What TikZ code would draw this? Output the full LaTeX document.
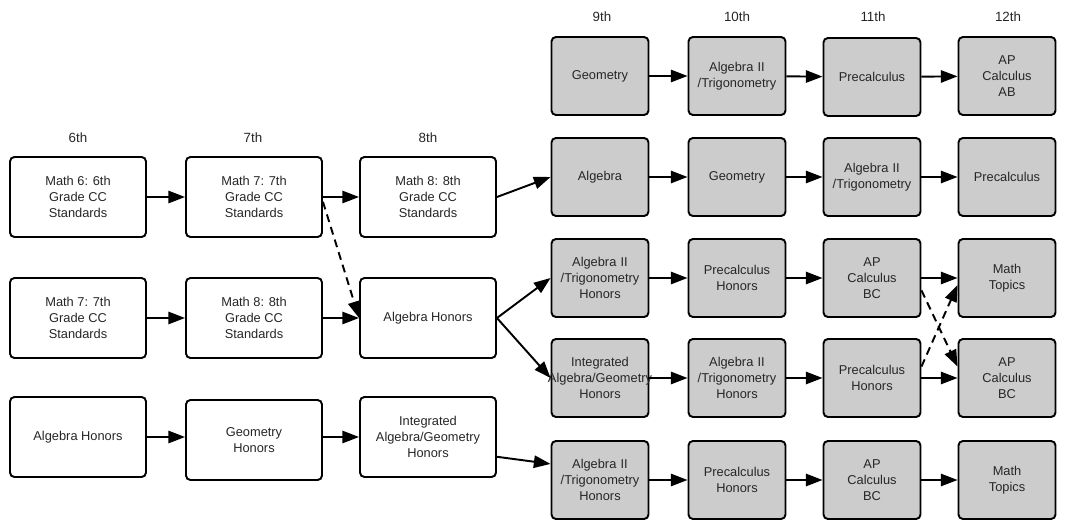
\documentclass[tikz,border=0pt]{standalone}
\usepackage{fontspec}
\setmainfont{Liberation Sans}
\usetikzlibrary{arrows.meta,positioning,shapes}
\definecolor{hsgray}{RGB}{204,204,204}
\tikzset{
        ->, % every connector is directed
        >={Triangle[length=9.5pt,width=7pt]}, % big filled heads
        x=0.02cm, y=-0.02cm, % one unit is one pixel of the layout
    }
\tikzstyle{course}=[draw,-,fill=white,text=black!85,rounded corners=2.5pt,minimum width=2.72cm,minimum height=1.6cm,align=center,inner sep=1pt]
\tikzstyle{hscourse}=[course,fill=hsgray,text width=1.9cm,minimum width=1.94cm,minimum height=1.56cm,inner sep=0.02cm]
\tikzstyle{grade}=[text=black!85,font=\fontsize{7.6}{9}\selectfont]
\tikzstyle{optional}=[dash pattern=on 4.5pt off 3pt]

\begin{document}
\begin{tikzpicture}[line width=1.1pt,font=\fontsize{7.3}{9.1}\selectfont]
    \useasboundingbox (0,0) rectangle (1072,520);
    % grade headings
    \node[grade] (g6) at (78,138) {6th};
    \node[grade] (g7) at (253,138) {7th};
    \node[grade] (g8) at (428,138) {8th};
    \node[grade] (g9) at (602,17) {9th};
    \node[grade] (g10) at (737,17) {10th};
    \node[grade] (g11) at (873,17) {11th};
    \node[grade] (g12) at (1008,17) {12th};

    % middle school tracks
    \node[course] (m6a) at (78,197) {Math 6: 6th\\Grade CC\\Standards};
    \node[course] (m7a) at (254,197) {Math 7: 7th\\Grade CC\\Standards};
    \node[course] (m8a) at (428,197) {Math 8: 8th\\Grade CC\\Standards};
    \node[course] (m6b) at (78,318) {Math 7: 7th\\Grade CC\\Standards};
    \node[course] (m7b) at (254,318) {Math 8: 8th\\Grade CC\\Standards};
    \node[course] (m8b) at (428,318) {Algebra Honors};
    \node[course] (m6c) at (78,437) {Algebra Honors};
    \node[course] (m7c) at (254,440) {Geometry\\Honors};
    \node[course] (m8c) at (428,437) {Integrated\\Algebra/Geometry\\Honors};

    % high school tracks
    \node[hscourse] (h9a) at (600,76) {Geometry};
    \node[hscourse] (h10a) at (737,76) {Algebra II\\/Trigonometry};
    \node[hscourse] (h11a) at (872,77) {Precalculus};
    \node[hscourse] (h12a) at (1007,76) {AP\\Calculus\\AB};
    \node[hscourse] (h9b) at (600,177) {Algebra};
    \node[hscourse] (h10b) at (737,177) {Geometry};
    \node[hscourse] (h11b) at (872,177) {Algebra II\\/Trigonometry};
    \node[hscourse] (h12b) at (1007,177) {Precalculus};
    \node[hscourse] (h9c) at (600,278) {Algebra II\\/Trigonometry\\Honors};
    \node[hscourse] (h10c) at (737,278) {Precalculus\\Honors};
    \node[hscourse] (h11c) at (872,278) {AP\\Calculus\\BC};
    \node[hscourse] (h12c) at (1007,278) {Math\\Topics};
    \node[hscourse] (h9d) at (600,378) {Integrated\\\makebox[1.9cm][c]{Algebra/Geometry}\\Honors};
    \node[hscourse] (h10d) at (737,378) {Algebra II\\/Trigonometry\\Honors};
    \node[hscourse] (h11d) at (872,378) {Precalculus\\Honors};
    \node[hscourse] (h12d) at (1007,378) {AP\\Calculus\\BC};
    \node[hscourse] (h9e) at (600,480) {Algebra II\\/Trigonometry\\Honors};
    \node[hscourse] (h10e) at (737,480) {Precalculus\\Honors};
    \node[hscourse] (h11e) at (872,480) {AP\\Calculus\\BC};
    \node[hscourse] (h12e) at (1007,480) {Math\\Topics};

    % connectors
    \draw (m6a) -- (m7a);
    \draw (m7a) -- (m8a);
    \draw (m8a.east) -- (h9b.west);
    \draw[optional] (m7a.-4) -- (m8b.west);
    \draw (m6b) -- (m7b);
    \draw (m7b) -- (m8b);
    \draw (m8b.east) -- (h9c.west);
    \draw (m8b.east) -- (h9d.west);
    \draw (m6c) -- (m7c.west |- m6c);
    \draw (m7c.east |- m6c) -- (m8c);
    \draw (m8c.-16) -- (h9e.162);
    \foreach \r in {a,b,c,d,e} {
        \draw (h9\r) -- (h10\r);
        \draw (h10\r) -- (h11\r);
        \draw (h11\r) -- (h12\r);
    }
    \draw[optional] (h11c.-14) -- (h12d.167);
    \draw[optional] (h11d.13) -- (h12c.188);
\end{tikzpicture}
\end{document}
